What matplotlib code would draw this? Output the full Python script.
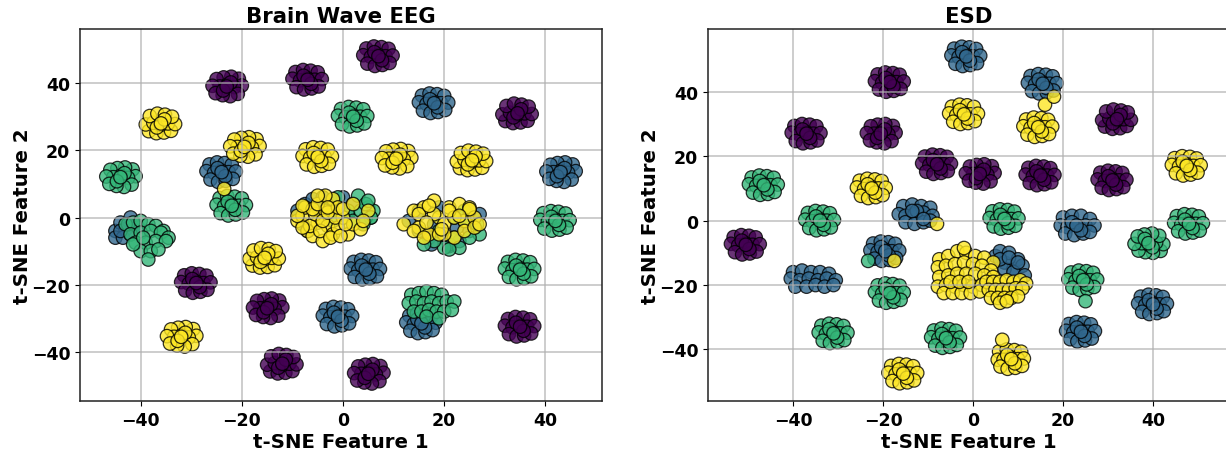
import matplotlib
matplotlib.use("Agg")
import matplotlib.pyplot as plt

W, H = 1226, 452

# Brain Wave EEG, one line per cluster
eeg_purple_x = [4.6, 6.1, 7.6, 9, 4, 5.5, 7, 8.4, 9.8, 4.8, 6.3, 7.8, 9.2, 6.2, 7.7, 7,
                -20.6, -22.1, -23.6, -25, -20, -21.5, -23, -24.4, -25.8, -20.8, -22.3, -23.8, -25.2, -22.2, -23.7, -23,
                -9.4, -7.9, -6.4, -5, -10, -8.5, -7, -5.6, -4.2, -9.2, -7.7, -6.2, -4.8, -7.8, -6.3, -7,
                32.1, 33.6, 35.1, 36.5, 31.5, 33, 34.5, 35.9, 37.3, 32.3, 33.8, 35.3, 36.7, 33.7, 35.2, 34.5,
                -31.4, -29.9, -28.4, -27, -32, -30.5, -29, -27.6, -26.2, -31.2, -29.7, -28.2, -26.8, -29.8, -28.3, -29,
                -12.6, -14.1, -15.6, -17, -12, -13.5, -15, -16.4, -17.8, -12.8, -14.3, -15.8, -17.2, -14.2, -15.7, -15,
                -14.4, -12.9, -11.4, -10, -15, -13.5, -12, -10.6, -9.2, -14.2, -12.7, -11.2, -9.8, -12.8, -11.3, -12,
                7.4, 5.9, 4.4, 3, 8, 6.5, 5, 3.6, 2.2, 7.2, 5.7, 4.2, 2.8, 5.8, 4.3, 5,
                32.6, 34.1, 35.6, 37, 32, 33.5, 35, 36.4, 37.8, 32.8, 34.3, 35.8, 37.2, 34.2, 35.7, 35]
eeg_purple_y = [50.3, 50.9, 50.7, 50.2, 48.3, 47.8, 48.4, 48, 48.2, 45.8, 45.1, 45.4, 46, 49.2, 46.8, 48,
                41.3, 41.9, 41.7, 41.2, 39.3, 38.8, 39.4, 39, 39.2, 36.8, 36.1, 36.4, 37, 40.2, 37.8, 39,
                43.3, 43.9, 43.7, 43.2, 41.3, 40.8, 41.4, 41, 41.2, 38.8, 38.1, 38.4, 39, 42.2, 39.8, 41,
                28.7, 28.1, 28.3, 28.8, 30.7, 31.2, 30.6, 31, 30.8, 33.2, 33.9, 33.6, 33, 29.8, 32.2, 31,
                -17.2, -16.6, -16.8, -17.3, -19.2, -19.7, -19.1, -19.5, -19.3, -21.7, -22.4, -22.1, -21.5, -18.3, -20.7, -19.5,
                -24.7, -24.1, -24.3, -24.8, -26.7, -27.2, -26.6, -27, -26.8, -29.2, -29.9, -29.6, -29, -25.8, -28.2, -27,
                -45.8, -46.4, -46.2, -45.7, -43.8, -43.3, -43.9, -43.5, -43.7, -41.3, -40.6, -40.9, -41.5, -44.7, -42.3, -43.5,
                -44.2, -43.6, -43.8, -44.3, -46.2, -46.7, -46.1, -46.5, -46.3, -48.7, -49.4, -49.1, -48.5, -45.3, -47.7, -46.5,
                -30.2, -29.6, -29.8, -30.3, -32.2, -32.7, -32.1, -32.5, -32.3, -34.7, -35.4, -35.1, -34.5, -31.3, -33.7, -32.5]

eeg_blue_x = [15.6, 17.1, 18.6, 20, 15, 16.5, 18, 19.4, 20.8, 15.8, 17.3, 18.8, 20.2, 17.2, 18.7, 18,
              -26.4, -24.9, -23.4, -22, -27, -25.5, -24, -22.6, -21.2, -26.2, -24.7, -23.2, -21.8, -24.8, -23.3, -24,
              45.4, 43.9, 42.4, 41, 46, 44.5, 43, 41.6, 40.2, 45.2, 43.7, 42.2, 40.8, 43.8, 42.3, 43,
              2.1, 3.6, 5.1, 6.5, 1.5, 3, 4.5, 5.9, 7.3, 2.3, 3.8, 5.3, 6.7, 3.7, 5.2, 4.5,
              -3.4, -1.9, -0.4, 1, -4, -2.5, -1, 0.4, 1.8, -3.2, -1.7, -0.2, 1.2, -1.8, -0.3, -1,
              13.1, 14.6, 16.1, 17.5, 12.5, 14, 15.5, 16.9, 18.3, 13.3, 14.8, 16.3, 17.7, 14.7, 16.2, 15.5,
              -45, -44, -43, -42, -41, -45, -43.5, -42, -40.5, -44, -42.5,
              -9, -7.5, -6, -4, -2, 0, 2, -8, -5, -2, 1, -7, -4,
              13, 15, 17, 19, 21, 23, 25, 27, 15, 17.5, 20, 22.5, 25, 18, 21]
eeg_blue_y = [36.3, 36.9, 36.7, 36.2, 34.3, 33.8, 34.4, 34, 34.2, 31.8, 31.1, 31.4, 32, 35.2, 32.8, 34,
              15.8, 16.4, 16.2, 15.7, 13.8, 13.3, 13.9, 13.5, 13.7, 11.3, 10.6, 10.9, 11.5, 14.7, 12.3, 13.5,
              15.8, 16.4, 16.2, 15.7, 13.8, 13.3, 13.9, 13.5, 13.7, 11.3, 10.6, 10.9, 11.5, 14.7, 12.3, 13.5,
              -13.2, -12.6, -12.8, -13.3, -15.2, -15.7, -15.1, -15.5, -15.3, -17.7, -18.4, -18.1, -17.5, -14.3, -16.7, -15.5,
              -27.2, -26.6, -26.8, -27.3, -29.2, -29.7, -29.1, -29.5, -29.3, -31.7, -32.4, -32.1, -31.5, -28.3, -30.7, -29.5,
              -29.2, -28.6, -28.8, -29.3, -31.2, -31.7, -31.1, -31.5, -31.3, -33.7, -34.4, -34.1, -33.5, -30.3, -32.7, -31.5,
              -4, -1.5, -3.5, 0, -2, -6, -6, -5, -3, -4, -2,
              2, 4, 5.5, 6, 5, 6, 4, -2, 3, 2, 1, -4, 0,
              -1, 2, -6, 3, -8.5, -7, -4, 1, -4, -8, -6, -3, 2, -2, -8]

eeg_green_x = [-0.4, 1.1, 2.6, 4, -1, 0.5, 2, 3.4, 4.8, -0.2, 1.3, 2.8, 4.2, 1.2, 2.7, 2,
               -41.6, -43.1, -44.6, -46, -41, -42.5, -44, -45.4, -46.8, -41.8, -43.3, -44.8, -46.2, -43.2, -44.7, -44,
               -24.4, -22.9, -21.4, -20, -25, -23.5, -22, -20.6, -19.2, -24.2, -22.7, -21.2, -19.8, -22.8, -21.3, -22,
               39.6, 41.1, 42.6, 44, 39, 40.5, 42, 43.4, 44.8, 39.8, 41.3, 42.8, 44.2, 41.2, 42.7, 42,
               -43, -41.5, -40, -38.5, -37, -35.5, -42, -40, -38, -36, -34.5, -41, -39, -37, -35, -40, -38, -36.5, -41.5, -38.5, -39.5,
               32.6, 34.1, 35.6, 37, 32, 33.5, 35, 36.4, 37.8, 32.8, 34.3, 35.8, 37.2, 34.2, 35.7, 35,
               13.5, 15, 16.5, 18, 19.5, 13, 14.5, 16, 17.5, 19, 20.5, 22, 14, 15.5, 17, 18.5, 20, 21.5, 16.5, 19,
               -3, -1, 1, 3, 5, 5.5, 4.5, 6, -2, 2, 3.5, 5.5, 0, 4, 4.5, 5,
               24, 26, 22, 20, 18, 27, 23, 16, 21, 25, 24, 26.5, 19, 22]
eeg_green_y = [32.3, 32.9, 32.7, 32.2, 30.3, 29.8, 30.4, 30, 30.2, 27.8, 27.1, 27.4, 28, 31.2, 28.8, 30,
               14.3, 14.9, 14.7, 14.2, 12.3, 11.8, 12.4, 12, 12.2, 9.8, 9.1, 9.4, 10, 13.2, 10.8, 12,
               5.8, 6.4, 6.2, 5.7, 3.8, 3.3, 3.9, 3.5, 3.7, 1.3, 0.6, 0.9, 1.5, 4.7, 2.3, 3.5,
               1.3, 1.9, 1.7, 1.2, -0.7, -1.2, -0.6, -1, -0.8, -3.3, -3.9, -3.6, -3, 0.2, -2.2, -1,
               -2, -1.5, -1, -2, -2.5, -4, -5, -4.5, -4, -4.5, -6, -7.5, -7.5, -7, -7, -10, -10, -9.5, -8, -12.5, -6,
               -13.2, -12.6, -12.8, -13.3, -15.2, -15.7, -15.1, -15.5, -15.3, -17.7, -18.4, -18.1, -17.5, -14.3, -16.7, -15.5,
               -23, -22.5, -22, -22.5, -23, -25.5, -25, -25.5, -25, -25.5, -25, -25, -28, -28, -27.5, -28, -28, -27.5, -29.5, -30,
               3, 6, 2, 6.5, 3, 0, 0, 2, -1, -1, 2, 0, 0, -2, 4, 5,
               -1, -3, -6, -9, -7, -5, -9, -8, -9.5, -6, 2, -2, -4, 0]

eeg_yellow_x = [-38.4, -36.9, -35.4, -34, -39, -37.5, -36, -34.6, -33.2, -38.2, -36.7, -35.2, -33.8, -36.8, -35.3, -36,
                -17.1, -18.6, -20.1, -21.5, -16.5, -18, -19.5, -20.9, -22.3, -17.3, -18.8, -20.3, -21.7, -18.7, -20.2, -19.5,
                -7.4, -5.9, -4.4, -3, -8, -6.5, -5, -3.6, -2.2, -7.2, -5.7, -4.2, -2.8, -5.8, -4.3, -5,
                12.9, 11.4, 9.9, 8.5, 13.5, 12, 10.5, 9.1, 7.7, 12.7, 11.2, 9.7, 8.3, 11.3, 9.8, 10.5,
                23.1, 24.6, 26.1, 27.5, 22.5, 24, 25.5, 26.9, 28.3, 23.3, 24.8, 26.3, 27.7, 24.7, 26.2, 25.5,
                -17.9, -16.4, -14.9, -13.5, -18.5, -17, -15.5, -14.1, -12.7, -17.7, -16.2, -14.7, -13.3, -16.3, -14.8, -15.5,
                -29.6, -31.1, -32.6, -34, -29, -30.5, -32, -33.4, -34.8, -29.8, -31.3, -32.8, -34.2, -31.2, -32.7, -32,
                -9, -8, -7, -6, -5, -4, -3, -2, -1, 0,
                1, 2, -7.5, -6.5, -5.5, -4.5, -3.5, -2.5, -1.5, -0.5,
                0.5, -6, -5, -4, -3, -2, -1, 3.5, -8, -3.5,
                12, 14, 15, 16, 17, 18, 19, 20, 21, 22,
                23, 24, 25, 26, 14, 16, 18, 20, 22, 24,
                26, 15, 17, 19, 21, 25, 27, 16.5, 19.5, 23]
eeg_yellow_y = [25.7, 25.1, 25.3, 25.8, 27.7, 28.2, 27.6, 28, 27.8, 30.2, 30.9, 30.6, 30, 26.8, 29.2, 28,
                23.3, 23.9, 23.7, 23.2, 21.3, 20.8, 21.4, 21, 21.2, 18.8, 18.1, 18.4, 19, 22.2, 19.8, 21,
                20.3, 20.9, 20.7, 20.2, 18.3, 17.8, 18.4, 18, 18.2, 15.8, 15.1, 15.4, 16, 19.2, 16.8, 18,
                19.8, 20.4, 20.2, 19.7, 17.8, 17.3, 17.9, 17.5, 17.7, 15.3, 14.6, 14.9, 15.5, 18.7, 16.3, 17.5,
                14.7, 14.1, 14.3, 14.8, 16.7, 17.2, 16.6, 17, 16.8, 19.2, 19.9, 19.6, 19, 15.8, 18.2, 17,
                -14.3, -14.9, -14.7, -14.2, -12.3, -11.8, -12.4, -12, -12.2, -9.8, -9.1, -9.4, -10, -13.2, -10.8, -12,
                -33.2, -32.6, -32.8, -33.3, -35.2, -35.7, -35.1, -35.5, -35.3, -37.7, -38.4, -38.1, -37.5, -34.3, -36.7, -35.5,
                -1, 0.5, -4, -5.5, -1.5, -7, -2.5, -5, -3, 0,
                -5, -2, 3, -2.5, 1, -4, 2, -6, 0, -5.5,
                -2, 2.5, 4, -1, 1.5, 5.5, 3, -3.5, -3, 6.5,
                -2, 2, -3, 3, -5, 5, 0, -2, 3, -6,
                4, -1, 3, 0, -4, -6, 1, -5, 0, -4,
                -3, 1, 3.5, -5, 2, 2.5, -2, -1.5, -3.5, 0.5]
eeg_stray_x = [-23.5, -5, 5, -9, 0, -8, -3, 2, 4]
eeg_stray_y = [8.5, 6.5, 2, 0.5, 2.5, 3.5, 3, 4, -1]

# ESD
esd_purple_x = [-21.2, -19.5, -17.8, -16.3, -21.8, -20.2, -18.5, -17, -15.4, -20.9, -19.3, -17.6, -16.1, -19.4, -17.7, -18.5,
                -39.7, -38, -36.3, -34.8, -40.3, -38.7, -37, -35.5, -33.9, -39.4, -37.8, -36.1, -34.6, -37.9, -36.2, -37,
                -17.8, -19.5, -21.2, -22.7, -17.2, -18.8, -20.5, -22, -23.6, -18.1, -19.7, -21.4, -22.9, -19.6, -21.3, -20.5,
                29.3, 31, 32.7, 34.2, 28.7, 30.3, 32, 33.5, 35.1, 29.6, 31.2, 32.9, 34.4, 31.1, 32.8, 32,
                -10.7, -9, -7.3, -5.8, -11.3, -9.7, -8, -6.5, -4.9, -10.4, -8.8, -7.1, -5.6, -8.9, -7.2, -8,
                4.2, 2.5, 0.8, -0.7, 4.8, 3.2, 1.5, 0, -1.6, 3.9, 2.3, 0.6, -0.9, 2.4, 0.7, 1.5,
                12.3, 14, 15.7, 17.2, 11.7, 13.3, 15, 16.5, 18.1, 12.6, 14.2, 15.9, 17.4, 14.1, 15.8, 15,
                28.3, 30, 31.7, 33.2, 27.7, 29.3, 31, 32.5, 34.1, 28.6, 30.2, 31.9, 33.4, 30.1, 31.8, 31,
                -53.2, -51.5, -49.8, -48.3, -53.8, -52.2, -50.5, -49, -47.4, -52.9, -51.3, -49.6, -48.1, -51.4, -49.7, -50.5]
esd_purple_y = [45.4, 46, 45.8, 45.3, 43.3, 42.8, 43.4, 43, 43.2, 40.7, 40, 40.3, 40.9, 44.3, 41.7, 43,
                29.4, 30, 29.8, 29.3, 27.3, 26.8, 27.4, 27, 27.2, 24.7, 24, 24.3, 24.9, 28.3, 25.7, 27,
                29.4, 30, 29.8, 29.3, 27.3, 26.8, 27.4, 27, 27.2, 24.7, 24, 24.3, 24.9, 28.3, 25.7, 27,
                29.2, 28.5, 28.7, 29.4, 31.2, 31.7, 31.1, 31.5, 31.3, 33.9, 34.5, 34.2, 33.6, 30.2, 32.8, 31.5,
                19.9, 20.5, 20.3, 19.8, 17.8, 17.3, 17.9, 17.5, 17.7, 15.2, 14.5, 14.8, 15.4, 18.8, 16.2, 17.5,
                16.9, 17.5, 17.3, 16.8, 14.8, 14.3, 14.9, 14.5, 14.7, 12.2, 11.5, 11.8, 12.4, 15.8, 13.2, 14.5,
                16.4, 17, 16.8, 16.3, 14.3, 13.8, 14.4, 14, 14.2, 11.7, 11, 11.3, 11.9, 15.3, 12.7, 14,
                14.9, 15.5, 15.3, 14.8, 12.8, 12.3, 12.9, 12.5, 12.7, 10.2, 9.5, 9.8, 10.4, 13.8, 11.2, 12.5,
                -5.1, -4.5, -4.7, -5.2, -7.2, -7.7, -7.1, -7.5, -7.3, -9.8, -10.5, -10.2, -9.6, -6.2, -8.8, -7.5]

esd_blue_x = [-4.2, -2.5, -0.8, 0.7, -4.8, -3.2, -1.5, 0, 1.6, -3.9, -2.3, -0.6, 0.9, -2.4, -0.7, -1.5,
              12.8, 14.5, 16.2, 17.7, 12.2, 13.8, 15.5, 17, 18.6, 13.1, 14.7, 16.4, 17.9, 14.6, 16.3, 15.5,
              -40, -38, -36, -34, -32, -40.5, -38.5, -36.5, -34.5, -32.5, -30.5, -39.5, -37, -35, -33, -31,
              -15.5, -13.5, -11.5, -9.5, -16.5, -15, -13, -11, -9, -15, -13, -11, -9.5, -12.5, -11, -13.5,
              20, 22, 24, 26, 19.5, 21, 23, 25, 27, 20.5, 22.5, 24.5, 26, 22, 24, 23,
              -22.2, -20.5, -18.8, -17.3, -22.8, -21.2, -19.5, -18, -16.4, -21.9, -20.3, -18.6, -17.1, -20.4, -18.7, -19.5,
              21.3, 23, 24.7, 26.2, 20.7, 22.3, 24, 25.5, 27.1, 21.6, 23.2, 24.9, 26.4, 23.1, 24.8, 24,
              37.3, 39, 40.7, 42.2, 36.7, 38.3, 40, 41.5, 43.1, 37.6, 39.2, 40.9, 42.4, 39.1, 40.8, 40,
              5, 6, 7, 8, 9, 10, 11, 7, 9, 11.5, 6, 8, 10]
esd_blue_y = [53.4, 54, 53.8, 53.3, 51.3, 50.8, 51.4, 51, 51.2, 48.7, 48, 48.3, 48.9, 52.3, 49.7, 51,
              44.9, 45.5, 45.3, 44.8, 42.8, 42.3, 42.9, 42.5, 42.7, 40.2, 39.5, 39.8, 40.4, 43.8, 41.2, 42.5,
              -16, -15.5, -16, -16, -16.5, -18, -18.5, -18, -18.5, -18, -18.5, -20.5, -20.5, -20, -20.5, -20,
              4.5, 5, 4.5, 4, 2, 1.5, 2, 2.5, 1.5, -0.5, -1, -0.5, 0, 3, 0.5, 3,
              1, 1.5, 1.5, 0.5, -1.5, -2, -1.5, -1.5, -1.5, -4, -4.5, -4, -3.5, -0.5, -3, -1.5,
              -7.1, -6.5, -6.7, -7.2, -9.2, -9.7, -9.1, -9.5, -9.3, -11.8, -12.5, -12.2, -11.6, -8.2, -10.8, -9.5,
              -32.1, -31.5, -31.7, -32.2, -34.2, -34.7, -34.1, -34.5, -34.3, -36.8, -37.5, -37.2, -36.6, -33.2, -35.8, -34.5,
              -23.6, -23, -23.2, -23.7, -25.7, -26.2, -25.6, -26, -25.8, -28.3, -29, -28.7, -28.1, -24.7, -27.3, -26,
              -11, -9.5, -13, -10, -15, -12, -14, -15, -16, -17, -12, -11.5, -13]

esd_green_x = [-49.2, -47.5, -45.8, -44.3, -49.8, -48.2, -46.5, -45, -43.4, -48.9, -47.3, -45.6, -44.1, -47.4, -45.7, -46.5,
               -36.7, -35, -33.3, -31.8, -37.3, -35.7, -34, -32.5, -30.9, -36.4, -34.8, -33.1, -31.6, -34.9, -33.2, -34,
               4.3, 6, 7.7, 9.2, 3.7, 5.3, 7, 8.5, 10.1, 4.6, 6.2, 7.9, 9.4, 6.1, 7.8, 7,
               45.3, 47, 48.7, 50.2, 44.7, 46.3, 48, 49.5, 51.1, 45.6, 47.2, 48.9, 50.4, 47.1, 48.8, 48,
               41.7, 40, 38.3, 36.8, 42.3, 40.7, 39, 37.5, 35.9, 41.4, 39.8, 38.1, 36.6, 39.9, 38.2, 39,
               21.8, 23.5, 25.2, 26.7, 21.2, 22.8, 24.5, 26, 27.6, 22.1, 23.7, 25.4, 26.9, 23.6, 25.3, 24.5, 25,
               -21.2, -19.5, -17.8, -16.3, -21.8, -20.2, -18.5, -17, -15.4, -20.9, -19.3, -17.6, -16.1, -19.4, -17.7, -18.5,
               -33.7, -32, -30.3, -28.8, -34.3, -32.7, -31, -29.5, -27.9, -33.4, -31.8, -30.1, -28.6, -31.9, -30.2, -31,
               -8.7, -7, -5.3, -3.8, -9.3, -7.7, -6, -4.5, -2.9, -8.4, -6.8, -5.1, -3.6, -6.9, -5.2, -6,
               -23.3]
esd_green_y = [13.4, 14, 13.8, 13.3, 11.3, 10.8, 11.4, 11, 11.2, 8.7, 8, 8.3, 8.9, 12.3, 9.7, 11,
               2.4, 3, 2.8, 2.3, 0.3, -0.2, 0.4, 0, 0.2, -2.3, -3, -2.7, -2.1, 1.3, -1.3, 0,
               2.9, 3.5, 3.3, 2.8, 0.8, 0.3, 0.9, 0.5, 0.7, -1.8, -2.5, -2.2, -1.6, 1.8, -0.8, 0.5,
               1.4, 2, 1.8, 1.3, -0.7, -1.2, -0.6, -1, -0.8, -3.3, -4, -3.7, -3.1, 0.3, -2.3, -1,
               -9.4, -10, -9.8, -9.3, -7.3, -6.8, -7.4, -7, -7.2, -4.7, -4, -4.3, -4.9, -8.3, -5.7, -7,
               -16.1, -15.5, -15.7, -16.2, -18.2, -18.7, -18.1, -18.5, -18.3, -20.8, -21.5, -21.2, -20.6, -17.2, -19.8, -18.5, -25,
               -20.1, -19.5, -19.7, -20.2, -22.2, -22.7, -22.1, -22.5, -22.3, -24.8, -25.5, -25.2, -24.6, -21.2, -23.8, -22.5,
               -32.6, -32, -32.2, -32.7, -34.7, -35.2, -34.6, -35, -34.8, -37.3, -38, -37.7, -37.1, -33.7, -36.3, -35,
               -34.1, -33.5, -33.7, -34.2, -36.2, -36.7, -36.1, -36.5, -36.3, -38.8, -39.5, -39.2, -38.6, -35.2, -37.8, -36.5,
               -12.5]

esd_yellow_x = [-4.7, -3, -1.3, 0.2, -5.3, -3.7, -2, -0.5, 1.1, -4.4, -2.8, -1.1, 0.4, -2.9, -1.2, -2,
                11.8, 13.5, 15.2, 16.7, 11.2, 12.8, 14.5, 16, 17.6, 12.1, 13.7, 15.4, 16.9, 13.6, 15.3, 14.5,
                44.8, 46.5, 48.2, 49.7, 44.2, 45.8, 47.5, 49, 50.6, 45.1, 46.7, 48.4, 49.9, 46.6, 48.3, 47.5,
                -25.2, -23.5, -21.8, -20.3, -25.8, -24.2, -22.5, -21, -19.4, -24.9, -23.3, -21.6, -20.1, -23.4, -21.7, -22.5,
                -18.2, -16.5, -14.8, -13.3, -18.8, -17.2, -15.5, -14, -12.4, -17.9, -16.3, -14.6, -13.1, -16.4, -14.7, -15.5,
                5.8, 7.5, 9.2, 10.7, 5.5, 6.8, 8.5, 10, 11.3, 6.1, 7.7, 9.4, 10.9, 7.6, 9.3, 8.5,
                16, 18, 6.5, -17.5, -8,
                -7.5, -5.5, -3.5, -1.5, 0.5, 2.5, 4.5, -7.8, -6, -4, -2, 0, 2, 4, -7.5, -5.5, -3.5, -1.5, 0.5, 2.5, 4.5,
                -7.8, -6, -4, -2, 0, 2, -6.5, -4.5, -2.5, -0.5, 1.5, -5, -3, -1, -2,
                3, 4.5, 6, 7.5, 9, 10.5, 11.8, 3.5, 5, 6.5, 8, 9.5, 11, 4, 5.5, 7, 8.5, 10, 6, 7.5]
esd_yellow_y = [35.4, 36, 35.8, 35.3, 33.3, 32.8, 33.4, 33, 33.2, 30.7, 30, 30.3, 30.9, 34.3, 31.7, 33,
                31.4, 32, 31.8, 31.3, 29.3, 28.8, 29.4, 29, 29.2, 26.7, 26, 26.3, 26.9, 30.3, 27.7, 29,
                19.4, 20, 19.8, 19.3, 17.3, 16.8, 17.4, 17, 17.2, 14.7, 14, 14.3, 14.9, 18.3, 15.7, 17,
                12.4, 13, 12.8, 12.3, 10.3, 9.8, 10.4, 10, 10.2, 7.7, 7, 7.3, 7.9, 11.3, 8.7, 10,
                -45.1, -44.5, -44.7, -45.2, -47.2, -47.7, -47.1, -47.5, -47.3, -49.8, -50.5, -50.2, -49.6, -46.2, -48.8, -47.5,
                -40.6, -40, -40.2, -40.7, -43.2, -43.2, -42.6, -43, -42.8, -45.3, -46, -45.7, -45.1, -41.7, -44.3, -43,
                36, 38.5, -37, -12.5, -1,
                -12, -11, -9.5, -10, -11, -11.5, -13, -14.5, -14, -13.5, -13, -13.5, -14, -15.5, -17.5, -17, -16.5, -16.5, -16.5, -17, -17.5,
                -20.5, -20, -20.5, -20, -20.5, -20, -22.5, -22.5, -22.5, -22.5, -22, -19, -19, -19, -8.5,
                -19, -19, -19, -18.5, -19, -18.5, -19.5, -21.5, -21.5, -21.5, -21.5, -21, -21, -24, -24, -24, -24, -23.5, -25.5, -25]


def draw_panel(ax, title, groups, xlim, ylim):
    # groups go in class order so yellow ends up on top like in the original
    for xs, ys, val in groups:
        ax.scatter(xs, ys, c=[val] * len(xs), cmap="viridis", vmin=0, vmax=3,
                   s=94, alpha=0.8, edgecolors="k", linewidths=0.9)
    ax.set_xlim(*xlim)
    ax.set_ylim(*ylim)
    ax.set_xticks(tick_vals)
    ax.set_yticks(tick_vals)
    # default zorder leaves the grid over the points, as in the reference
    ax.grid(True, color="#b0b0b0", linewidth=1.1, alpha=0.8)
    ax.set_title(title, fontsize=15.3, fontweight="bold", pad=5)
    ax.set_xlabel("t-SNE Feature 1", fontsize=14.2, fontweight="bold", labelpad=2)
    ax.set_ylabel("t-SNE Feature 2", fontsize=14.2, fontweight="bold", labelpad=0)
    ax.tick_params(labelsize=12.5, length=3.5)
    for lab in ax.get_xticklabels() + ax.get_yticklabels():
        lab.set_fontweight("bold")
    for sp in ax.spines.values():
        sp.set_color("#222222")
        sp.set_linewidth(1.1)


def axes_px(fig, left, top, right, bottom):
    return fig.add_axes([left / W, 1 - bottom / H, (right - left) / W, (bottom - top) / H])


tick_vals = [-40, -20, 0, 20, 40]

fig = plt.figure(figsize=(W / 100, H / 100), dpi=100)

ax1 = axes_px(fig, 80, 30, 601.5, 402)
draw_panel(ax1, "Brain Wave EEG",
           [(eeg_purple_x, eeg_purple_y, 0), (eeg_blue_x, eeg_blue_y, 1),
            (eeg_green_x, eeg_green_y, 2), (eeg_yellow_x, eeg_yellow_y, 3),
            (eeg_stray_x, eeg_stray_y, 3)],
           (-52, 51.1), (-54.6, 56.1))

ax2 = axes_px(fig, 708, 30, 1229, 402)
draw_panel(ax2, "ESD",
           [(esd_purple_x, esd_purple_y, 0), (esd_blue_x, esd_blue_y, 1),
            (esd_green_x, esd_green_y, 2), (esd_yellow_x, esd_yellow_y, 3)],
           (-58.9, 56.9), (-56, 59.5))

fig.savefig("out.png", dpi=100)
plt.close(fig)
